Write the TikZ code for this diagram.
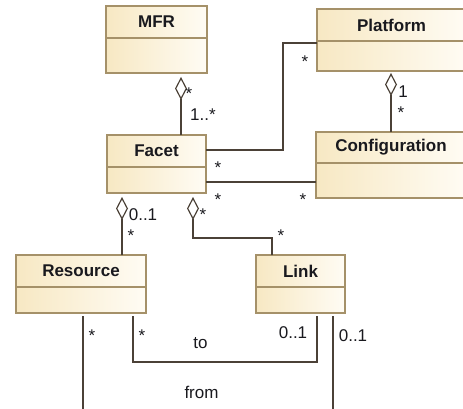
\documentclass[tikz,border=0pt]{standalone}
\usepackage{fontspec}
\setmainfont{Liberation Sans}
\usetikzlibrary{arrows.meta,shadows}
\definecolor{bord}{RGB}{165,145,105}
\definecolor{fillL}{RGB}{247,232,195}
\definecolor{fillR}{RGB}{255,252,244}
\definecolor{lnc}{RGB}{75,65,55}
\definecolor{txt}{RGB}{25,25,30}
\newcommand\umlbox[7]{%
  \node[cls, anchor=north west, minimum width={(#4-#2)*1pt}, minimum height={(#5-#3)*1pt}] (#1) at (#2,#3) {};
  \draw[divl] (#2,#6) -- (#4,#6);
  \node[title] (#1T) at ({(#2+#4)/2},{(#3+#6)/2}) {#7};
}
\begin{document}
\begin{tikzpicture}[x=1pt,y=-1pt,
  cls/.style={draw=bord, line width=1.2pt, left color=fillL, right color=fillR,
    inner sep=0pt, outer sep=0pt,
    drop shadow={shadow xshift=1.3pt, shadow yshift=-1.3pt, opacity=0.25, fill=black}},
  divl/.style={draw=bord, line width=1.2pt},
  title/.style={font=\fontsize{17}{20}\selectfont\bfseries, text=txt, inner sep=0pt},
  lab/.style={font=\fontsize{17}{20}\selectfont, text=txt, inner sep=0pt},
  star/.style={lab, yshift=-4pt},
  ln/.style={draw=lnc, line width=1.2pt},
  agg/.style={ln, -{Diamond[open, length=23pt, width=12pt, line width=1.2pt]}}
]
\useasboundingbox (0,0) rectangle (463,409);

\umlbox{mfr}{106}{6}{207}{73}{38}{MFR}
\umlbox{platform}{317}{9}{466}{71}{41}{Platform}
\umlbox{facet}{107}{135}{206}{193}{167}{Facet}
\umlbox{config}{316}{132}{466}{198}{163}{Configuration}
\umlbox{resource}{16}{255}{146}{313}{287}{Resource}
\umlbox{link}{256}{255}{345}{313}{287}{Link}

% helper coordinates
\coordinate (xA) at (181,0);
\coordinate (xB) at (391,0);
\coordinate (xC) at (122,0);
\coordinate (xD) at (193,0);
\coordinate (xE) at (272,0);
\coordinate (yE) at (0,238);
\coordinate (pfY) at (0,43);
\coordinate (pfX) at (283,0);
\coordinate (pfY2) at (0,150);
\coordinate (fcY) at (0,182);
\coordinate (xF) at (83,0);
\coordinate (xG) at (133,0);
\coordinate (xH) at (317,0);
\coordinate (xI) at (333,0);
\coordinate (yG) at (0,362);
\coordinate (fromA) at (83,420);
\coordinate (fromB) at (333,420);

% MFR - Facet
\draw[agg, shorten >=4pt] (facet.north -| xA) -- (mfr.south -| xA);
\node[star] at (189,90) {*};
\node[lab] at (203,115) {1..*};

% Platform - Facet
\draw[ln] (platform.west |- pfY) -| (pfX |- pfY2) -- (facet.east |- pfY2);
\node[star] at (305,58) {*};
\node[star] at (218,164) {*};

% Facet - Configuration
\draw[ln] (facet.east |- fcY) -- (config.west |- fcY);
\node[star] at (218,196) {*};
\node[star] at (303,196) {*};

% Platform - Configuration
\draw[agg, shorten >=2pt] (config.north -| xB) -- (platform.south -| xB);
\node[lab] at (403,92) {1};
\node[star] at (401,109) {*};

% Facet - Resource
\draw[agg, shorten >=4pt] (resource.north -| xC) -- (facet.south -| xC);
\node[lab] at (143,215) {0..1};
\node[star] at (131,232) {*};

% Facet - Link
\draw[agg, shorten >=4pt] (link.north -| xE) |- (xD |- yE) -- (facet.south -| xD);
\node[star] at (203,211) {*};
\node[star] at (281,232) {*};

% Resource - Link (to)
\draw[ln, shorten <=3pt, shorten >=3pt] (resource.south -| xG) |- (xH |- yG) -- (link.south -| xH);
\node[star] at (142,332) {*};
\node[lab] at (293,333) {0..1};
\node[lab] at (200.5,343.5) {to};

% Resource - Link (from)
\draw[ln, shorten <=3pt] (resource.south -| xF) -- (fromA);
\draw[ln, shorten <=3pt] (link.south -| xI) -- (fromB);
\node[star] at (92,332) {*};
\node[lab] at (353,336) {0..1};
\node[lab] at (201.5,392) {from};
\end{tikzpicture}
\end{document}
